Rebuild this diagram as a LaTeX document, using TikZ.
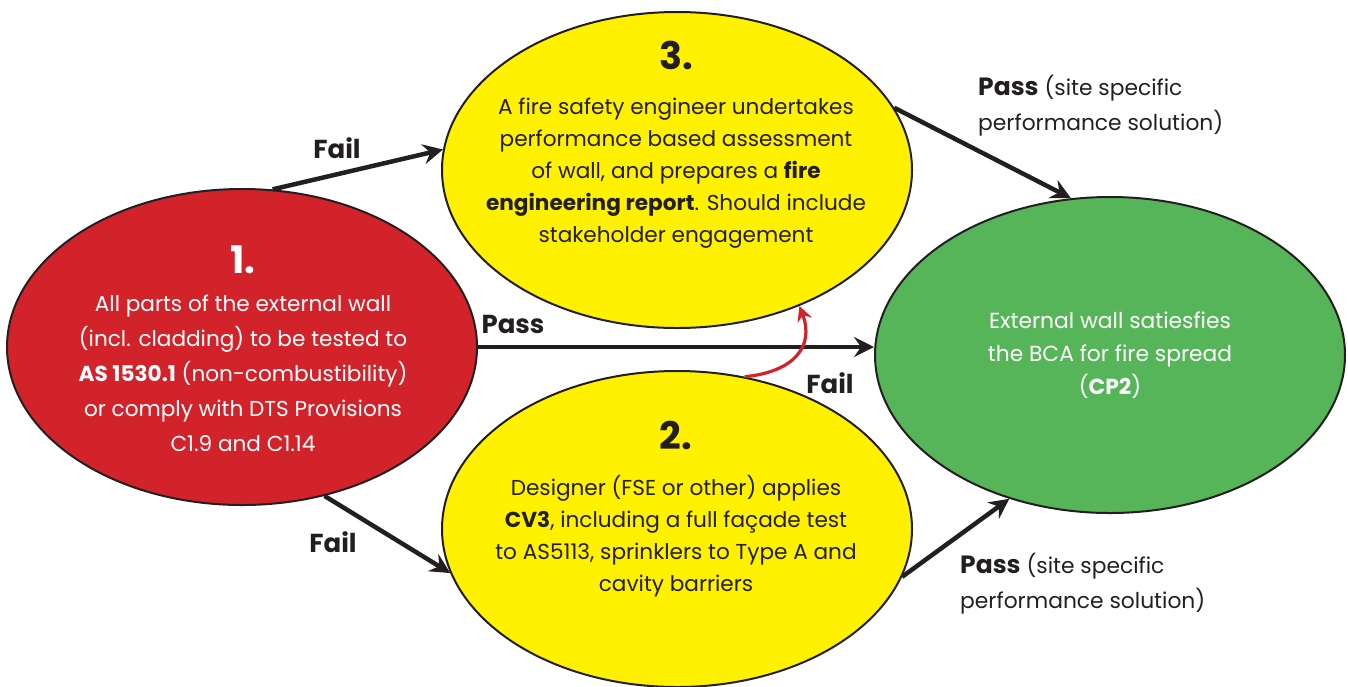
\documentclass[tikz,border=0pt]{standalone}
\usepackage{fontspec}
\setmainfont{Poppins}
\usetikzlibrary{shapes.geometric,arrows.meta}
\definecolor{cred}{HTML}{D2232A}
\definecolor{cyel}{HTML}{FFF100}
\definecolor{cgrn}{HTML}{55B558}
\definecolor{cdark}{HTML}{231F20}
\tikzset{
  blob/.style={ellipse, draw=cdark, line width=2pt, minimum width=470pt, minimum height=316pt, inner sep=0pt},
  numtxt/.style={font=\fontsize{38}{40}\selectfont\bfseries, anchor=base, inner sep=0pt},
  bodytxt/.style={align=center, anchor=base, inner sep=0pt},
  lbl/.style={font=\fontsize{26}{30}\selectfont\bfseries, text=cdark, anchor=base, inner sep=0pt},
  passtxt/.style={align=left, anchor=base west, inner sep=0pt, text=cdark, font=\fontsize{21.8}{35}\selectfont},
  arr/.style={draw=cdark, line width=4.5pt, -{Stealth[length=20pt, width=20pt, inset=7pt]}},
  redarr/.style={draw=cred, line width=3.2pt, -{Stealth[length=15pt, width=15pt, inset=5pt]}},
}
\begin{document}
\begin{tikzpicture}[x=1pt, y=-1pt]
\useasboundingbox (0,0) rectangle (1348,686);
% ellipses
\node[blob, fill=cred] (n1) at (242,347) {};
\node[blob, fill=cyel] (n3) at (677,170) {};
\node[blob, fill=cyel] (n2) at (677,529) {};
\node[blob, fill=cgrn] (n4) at (1110,355) {};
% numbers
\node[numtxt, text=white] (k1) at (243,273) {1.};
\node[numtxt, text=cdark] (k3) at (676,69) {3.};
\node[numtxt, text=cdark] (k2) at (676,449) {2.};
% texts (anchored at the baseline of their last line)
\node[bodytxt, text=white, font=\fontsize{21.6}{35}\selectfont] (t1) at (243,451)
  {All parts of the external wall\\(incl. cladding) to be tested to\\\textbf{AS 1530.1} (non-combustibility)\\or comply with DTS Provisions\\C1.9 and C1.14};
\node[bodytxt, text=cdark, font=\fontsize{21.6}{32}\selectfont] (t3) at (676,242)
  {A fire safety engineer undertakes\\performance based assessment\\of wall, and prepares a \textbf{fire}\\\textbf{engineering report}. Should include\\stakeholder engagement};
\node[bodytxt, text=cdark, font=\fontsize{21.6}{32}\selectfont] (t2) at (676,591)
  {Designer (FSE or other) applies\\\textbf{CV3}, including a full façade test\\to AS5113, sprinklers to Type A and\\cavity barriers};
\node[bodytxt, text=white, font=\fontsize{21.8}{33}\selectfont] (t4) at (1110,394)
  {External wall satiesfies\\the BCA for fire spread\\(\textbf{CP2})};
% connectors
\draw[arr] (n1.79) -- (n3.175);
\draw[arr] (n1.east) -- (n1.east -| n4.west);
\draw[arr] (n1.-61) -- (n2.191.6);
\draw[arr] (n3.16.8) -- (n4.104);
\draw[arr] (n2.-12.3) -- (n4.235);
\draw[redarr] (n2.66.4) .. controls +(50,-5) and +(15,40) .. (n3.-48.2);
% labels
\node[lbl] (f1) at (337,158) {Fail};
\node[lbl] (p1) at (513,333) {Pass};
\node[lbl] (f2) at (830,393) {Fail};
\node[lbl] (f3) at (333,552) {Fail};
\node[passtxt] (p2) at (978,130) {{\fontsize{25}{30}\selectfont\bfseries Pass} (site specific\\performance solution)};
\node[passtxt] (p3) at (960,608) {{\fontsize{25}{30}\selectfont\bfseries Pass} (site specific\\performance solution)};
\end{tikzpicture}
\end{document}
